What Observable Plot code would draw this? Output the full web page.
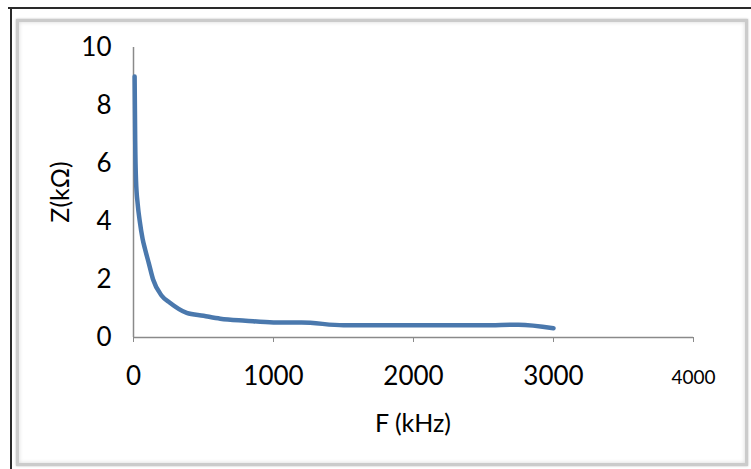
<!DOCTYPE html>
<html>
<head>
<meta charset="utf-8">
<script src="https://cdn.jsdelivr.net/npm/d3@7"></script>
<script src="https://cdn.jsdelivr.net/npm/@observablehq/plot@0.6"></script>
<style>
  html, body { margin: 0; padding: 0; background: #fff; }
  #wrap { position: relative; width: 751px; height: 469px; overflow: hidden; font-family: Lato, "Open Sans", sans-serif; }
  .outerTop { position: absolute; left: 8px; top: 7px; width: 743px; height: 2px; background: #2a2a2a; }
  .outerLeft { position: absolute; left: 10px; top: 7px; width: 2px; height: 462px; background: #2a2a2a; }
  .inner { position: absolute; left: 16px; top: 19px; width: 726px; height: 441px; border: 3px solid #cbcbcb; box-shadow: inset 0 0 4px #d8d8d8, 0 0 2px #bbb; }
  #chart { position: absolute; left: 0; top: 0; }
</style>
</head>
<body>
<div id="wrap">
  <div class="outerTop"></div>
  <div class="outerLeft"></div>
  <div class="inner"></div>
  <div id="chart"></div>
</div>
<script>
const freqKHz = [8, 12, 18, 30, 45, 65, 85, 110, 140, 200, 260, 380, 500, 620, 800, 1000, 1200, 1500, 2000, 2500, 2750, 3000];
const impedanceKOhm = [9.0, 6.8, 5.4, 4.6, 4.0, 3.4, 3.0, 2.55, 2.0, 1.45, 1.2, 0.85, 0.75, 0.65, 0.58, 0.52, 0.52, 0.42, 0.42, 0.42, 0.44, 0.32];
const xTicksMain = [0, 1000, 2000, 3000];
const xTicksSmall = [4000];
const yTicks = [0, 2, 4, 6, 8, 10];
const xLabel = "F (kHz)";
const yLabel = "Z(kΩ)";

const data = freqKHz.map((f, i) => ({f, z: impedanceKOhm[i]}));
const FONT = "Lato, 'Open Sans', sans-serif";

const chart = Plot.plot({
  width: 751,
  height: 469,
  marginLeft: 133,
  marginRight: 58,
  marginTop: 47,
  marginBottom: 132,
  style: {background: "transparent", fontFamily: FONT, color: "#000"},
  x: {domain: [0, 4000]},
  y: {domain: [0, 10]},
  marks: [
    Plot.ruleY([0], {stroke: "#8a8a8a", strokeWidth: 1.5}),
    Plot.ruleX([0], {stroke: "#8a8a8a", strokeWidth: 1.5}),
    Plot.axisX({ticks: [...xTicksMain, ...xTicksSmall], tickSize: 5, tickFormat: () => "", stroke: "#8a8a8a", label: null}),
    Plot.axisX({ticks: xTicksMain, tickSize: 0, tickPadding: 29, fontSize: 26, tickFormat: d => String(d), label: null}),
    Plot.axisX({ticks: xTicksSmall, tickSize: 0, tickPadding: 33, fontSize: 19, tickFormat: d => String(d), label: null}),
    Plot.axisY({ticks: yTicks, tickSize: 0, tickPadding: 22, fontSize: 26, tickFormat: d => String(d), label: null}),
    Plot.line(data, {x: "f", y: "z", stroke: "#4a78ad", strokeWidth: 4.5, curve: "monotone-x", strokeLinejoin: "round", strokeLinecap: "round"})
  ]
});

document.getElementById("chart").appendChild(chart);

const svg = d3.select(chart);
const xs = chart.scale("x"), ys = chart.scale("y");
svg.append("text")
  .attr("x", (xs.apply(0) + xs.apply(4000)) / 2)
  .attr("y", ys.apply(0) + 95)
  .attr("text-anchor", "middle")
  .attr("font-size", 25)
  .attr("font-family", FONT)
  .text(xLabel);
svg.append("text")
  .attr("transform", `translate(${xs.apply(0) - 64},${(ys.apply(0) + ys.apply(10)) / 2}) rotate(-90)`)
  .attr("text-anchor", "middle")
  .attr("font-size", 25)
  .attr("font-family", FONT)
  .text(yLabel);
</script>
</body>
</html>
